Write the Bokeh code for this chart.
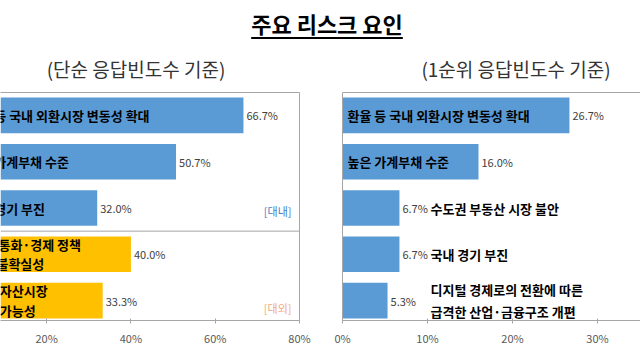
from bokeh.plotting import figure
from bokeh.models import (Range1d, FixedTicker, PrintfTickFormatter, LinearAxis,
                          Span, ColumnDataSource, Div)
from bokeh.layouts import column, row
from bokeh.embed import file_html
from bokeh.resources import INLINE
from bokeh.core.properties import value

FONT = "Noto Sans CJK KR"

# ---------------- data ----------------
main_title = "주요 리스크 요인"
left_subtitle = "(단순 응답빈도수 기준)"
right_subtitle = "(1순위 응답빈도수 기준)"

left_categories = ["환율 등 국내 외환시장 변동성 확대", "높은 가계부채 수준", "국내 경기 부진",
                   "주요국 통화·경제 정책\n불확실성", "글로벌 자산시장\n조정 가능성"]
left_values = [66.7, 50.7, 32.0, 40.0, 33.3]
left_groups = ["대내", "대내", "대내", "대외", "대외"]
group_tags = ["[대내]", "[대외]"]

right_categories = ["환율 등 국내 외환시장 변동성 확대", "높은 가계부채 수준", "수도권 부동산 시장 불안",
                    "국내 경기 부진", "디지털 경제로의 전환에 따른\n급격한 산업·금융구조 개편"]
right_values = [26.7, 16.0, 6.7, 6.7, 5.3]

left_ticks = [0, 20, 40, 60, 80]
right_ticks = [0, 10, 20, 30, 40]

# ---------------- styles ----------------
BLUE = "#5B9BD5"
ORANGE = "#FFC000"
GRID = "#A6A6A6"
TICK_TXT = "#595959"
VAL_TXT = "#404040"
group_color = {"대내": BLUE, "대외": ORANGE}
tag_color = {"[대내]": "#4A7EC2", "[대외]": "#F2A97A"}

Y_RANGE = (4.43, -0.495)
BAR_H = 0.77
LBL_SIZE = "13px"
VAL_SIZE = "11px"


def style_axis(ax, show_ticks=True):
    ax.axis_line_color = GRID
    ax.axis_line_width = 1
    ax.major_tick_line_color = GRID if show_ticks else None
    ax.minor_tick_line_color = None
    ax.major_tick_in = 2
    ax.major_tick_out = 3
    if show_ticks:
        ax.major_label_text_font = FONT
        ax.major_label_text_font_size = "11px"
        ax.major_label_text_color = TICK_TXT
        ax.major_label_standoff = 6
    else:
        ax.major_label_text_font_size = "0px"
        ax.major_label_text_color = None
        ax.major_tick_in = 0
        ax.major_tick_out = 0
        ax.major_label_standoff = 0


def line_axis(p, side):
    ax = LinearAxis()
    style_axis(ax, show_ticks=False)
    ax.ticker = FixedTicker(ticks=[])
    p.add_layout(ax, side)


# ---------------- header ----------------
header = Div(
    width=640, height=79,
    text=(
        f"<div style=\"position:relative;width:640px;height:79px;font-family:'{FONT}';\">"
        f"<div style=\"position:absolute;left:322px;top:5px;transform:translateX(-50%);"
        f"font-size:22px;font-weight:bold;text-decoration:underline;text-underline-offset:4px;"
        f"color:#000;white-space:nowrap;line-height:26px;\">{main_title}</div>"
        f"<div style=\"position:absolute;left:131px;top:52px;transform:translateX(-50%);"
        f"font-size:19px;color:#333;white-space:nowrap;line-height:24px;\">{left_subtitle}</div>"
        f"<div style=\"position:absolute;left:511px;top:52px;transform:translateX(-50%);"
        f"font-size:19px;color:#333;white-space:nowrap;line-height:24px;\">{right_subtitle}</div>"
        f"</div>"
    ),
)

# ---------------- left panel ----------------
ly = list(range(len(left_categories)))
lsrc = ColumnDataSource(dict(
    y=ly, v=left_values, cat=left_categories,
    color=[group_color[g] for g in left_groups],
    vlab=[f"{v:.1f}%" for v in left_values],
))

pl = figure(width=320, height=265, output_backend="svg", toolbar_location=None,
            x_range=Range1d(9.05, 80), y_range=Range1d(*Y_RANGE),
            min_border_left=0, min_border_right=21, min_border_top=3, min_border_bottom=34,
            x_axis_location=None, y_axis_location=None)
pl.outline_line_color = None
pl.grid.visible = False

xb = LinearAxis(ticker=FixedTicker(ticks=left_ticks), formatter=PrintfTickFormatter(format="%d%%"))
style_axis(xb)
pl.add_layout(xb, "below")
line_axis(pl, "above")
line_axis(pl, "right")

pl.hbar(y="y", right="v", left=0, height=BAR_H, color="color", line_color=None, source=lsrc)

single = [i for i, c in enumerate(left_categories) if "\n" not in c]
multi = [i for i, c in enumerate(left_categories) if "\n" in c]
pl.text(x=[0] * len(single), y=[ly[i] for i in single], text=[left_categories[i] for i in single],
        x_offset=5, text_align="left", text_baseline="middle",
        text_font=value(FONT), text_font_style="bold", text_font_size=LBL_SIZE, text_color="black")
pl.text(x=[0] * len(multi), y=[ly[i] for i in multi], text=[left_categories[i] for i in multi],
        x_offset=[58, 42], text_align="center", text_baseline="middle", text_line_height=1.02,
        text_font=value(FONT), text_font_style="bold", text_font_size=LBL_SIZE, text_color="black")
pl.text(x="v", y="y", text="vlab", source=lsrc, x_offset=3, text_align="left", text_baseline="middle",
        text_font=value(FONT), text_font_size=VAL_SIZE, text_color=VAL_TXT)

# separator between domestic and external groups
n_dom = left_groups.count("대내")
pl.add_layout(Span(location=n_dom - 0.5, dimension="width", line_color=GRID, line_width=1))

# group tags
tag_y = [max(i for i, g in enumerate(left_groups) if g == t.strip("[]")) for t in group_tags]
pl.text(x=[80] * len(group_tags), y=tag_y, text=group_tags, x_offset=-8, y_offset=[3, 7],
        text_align="right", text_baseline="middle",
        text_font=value(FONT), text_font_size="11px",
        text_color=[tag_color[t] for t in group_tags])

# ---------------- right panel ----------------
ry = list(range(len(right_categories)))
rsrc = ColumnDataSource(dict(
    y=ry, v=right_values, cat=right_categories,
    vlab=[f"{v:.1f}%" for v in right_values],
))

pr = figure(width=320, height=265, output_backend="svg", toolbar_location=None,
            x_range=Range1d(0, 35.06), y_range=Range1d(*Y_RANGE),
            min_border_left=22, min_border_right=0, min_border_top=3, min_border_bottom=34,
            x_axis_location=None, y_axis_location=None)
pr.outline_line_color = None
pr.grid.visible = False

xb2 = LinearAxis(ticker=FixedTicker(ticks=right_ticks), formatter=PrintfTickFormatter(format="%d%%"))
style_axis(xb2)
pr.add_layout(xb2, "below")
line_axis(pr, "above")
line_axis(pr, "left")

pr.hbar(y="y", right="v", left=0, height=BAR_H, color=BLUE, line_color=None, source=rsrc)

# labels: inside bar for wide bars, to the right for narrow ones
inside = [i for i, v in enumerate(right_values) if v > 10]
outside = [i for i, v in enumerate(right_values) if v <= 10]
OUT_X = 10.35
pr.text(x=[0] * len(inside), y=[ry[i] for i in inside], text=[right_categories[i] for i in inside],
        x_offset=5, text_align="left", text_baseline="middle",
        text_font=value(FONT), text_font_style="bold", text_font_size=LBL_SIZE, text_color="black")
pr.text(x=[OUT_X] * len(outside), y=[ry[i] for i in outside], text=[right_categories[i] for i in outside],
        text_align="left", text_baseline="middle", text_line_height=1.12,
        text_font=value(FONT), text_font_style="bold", text_font_size=LBL_SIZE, text_color="black")
pr.text(x="v", y="y", text="vlab", source=rsrc, x_offset=3, text_align="left", text_baseline="middle",
        text_font=value(FONT), text_font_size=VAL_SIZE, text_color=VAL_TXT)

layout = column(header, row(pl, pr, spacing=0), spacing=0)

open("out.html", "w").write(file_html(layout, INLINE))
